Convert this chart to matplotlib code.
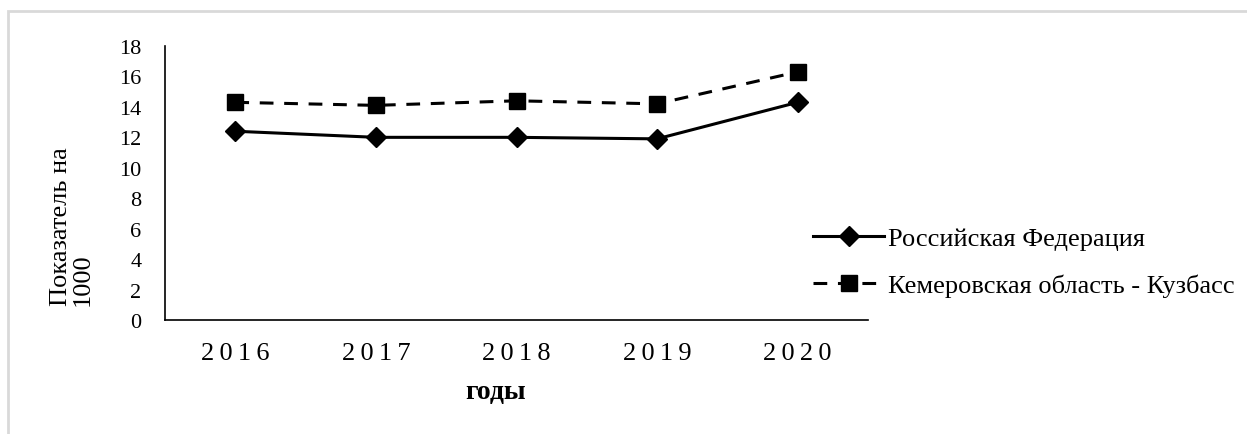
import matplotlib
matplotlib.use("Agg")
import matplotlib.pyplot as plt
from matplotlib.patches import Rectangle

years = ["2016", "2017", "2018", "2019", "2020"]
rf_values = [12.4, 12.0, 12.0, 11.9, 14.3]
kem_values = [14.3, 14.1, 14.4, 14.2, 16.3]
series_labels = ["Российская Федерация", "Кемеровская область - Кузбасс"]
y_ticks = [0, 2, 4, 6, 8, 10, 12, 14, 16, 18]
y_label = "Показатель на\n1000"
x_label = "годы"

plt.rcParams['font.family'] = ['Liberation Serif', 'DejaVu Serif']

W, H = 1247, 435
fig = plt.figure(figsize=(W / 100, H / 100), dpi=100)
fig.patch.set_facecolor("white")

# outer light border
fig.patches.append(Rectangle((8 / W, -0.1), 1.2, 1 - 12 / H + 0.1, transform=fig.transFigure,
                             fill=False, edgecolor="#d9d9d9", lw=2))

ax = fig.add_axes([165 / W, 1 - 321 / H, (868 - 165) / W, (321 - 47) / H])
x = list(range(len(years)))
ax.plot(x, rf_values, color="black", lw=2.2, marker="D", markersize=10,
        label=series_labels[0])
ax.plot(x, kem_values, color="black", lw=2.2, ls=(0, (4.5, 3.5)), marker="s", markersize=12,
        label=series_labels[1])

ax.set_xlim(-0.5, len(years) - 0.5)
ax.set_ylim(0, 18)
ax.set_yticks(y_ticks)
ax.set_yticklabels([str(v) for v in y_ticks], fontsize=16)
ax.set_xticks(x)
ax.set_xticklabels(["\u2009".join(y) for y in years], fontsize=19)
ax.tick_params(axis="both", length=0)
ax.tick_params(axis="x", pad=16)
ax.tick_params(axis="y", pad=17)
for s in ["top", "right"]:
    ax.spines[s].set_visible(False)
for s in ["left", "bottom"]:
    ax.spines[s].set_linewidth(1.2)

fig.text(72 / W, 1 - 227 / H, y_label, rotation=90, ha="center", va="center",
         multialignment="left", fontsize=19, linespacing=0.95)
fig.text(496 / W, 1 - 393 / H, x_label, ha="center", va="center", fontsize=20,
         fontweight="bold")

leg = ax.legend(loc="center left", bbox_to_anchor=(813 / W, 1 - 263 / H),
                bbox_transform=fig.transFigure, frameon=False, fontsize=19,
                handlelength=2.7, handletextpad=0.15, labelspacing=0.9,
                borderaxespad=0, borderpad=0)

fig.savefig("out.png", dpi=100)
